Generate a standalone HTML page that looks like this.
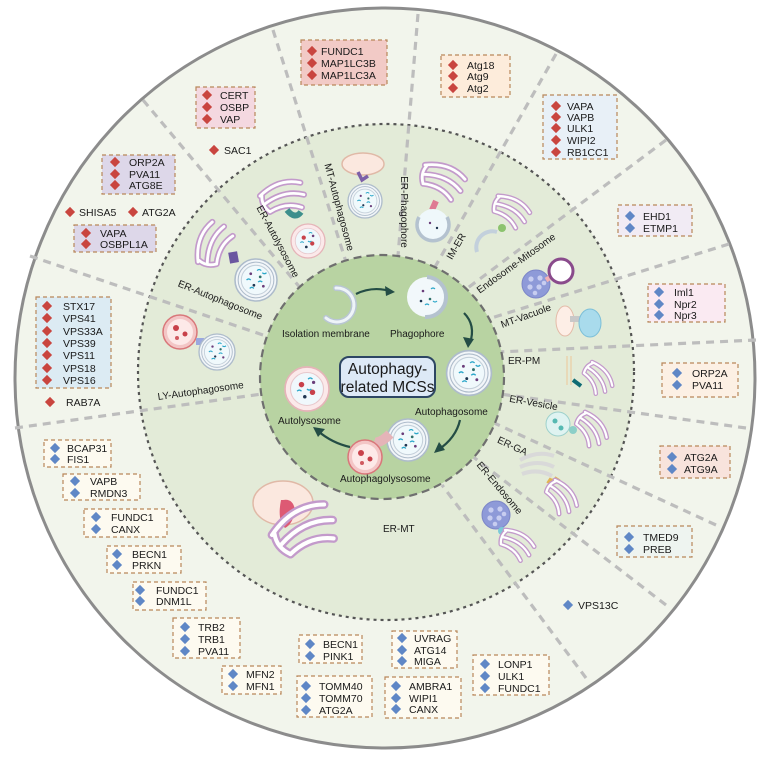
<!DOCTYPE html>
<html><head><meta charset="utf-8"><style>
html,body{margin:0;padding:0;background:#fff;width:770px;height:758px;overflow:hidden}
svg{display:block}
text{font-family:"Liberation Sans",sans-serif;fill:#1a1a1a}
.b{font-size:10.5px}
.l{font-size:10px}
</style></head><body>
<svg width="770" height="758" viewBox="0 0 770 758" xmlns="http://www.w3.org/2000/svg">
<defs>
<g id="er"><path d="M0,0 q22,-16 44,-8 M4,9 q22,-12 42,-4 M8,18 q18,-8 34,0 M2,0 q-2,10 6,18" fill="none" stroke="#c39acb" stroke-width="6.5" stroke-linecap="round"/><path d="M0,0 q22,-16 44,-8 M4,9 q22,-12 42,-4 M8,18 q18,-8 34,0 M2,0 q-2,10 6,18" fill="none" stroke="#fff" stroke-width="3" stroke-linecap="round"/></g>
<g id="ap"><circle r="20" fill="#f2f6f9" stroke="#aebccb" stroke-width="1.5"/><circle r="17" fill="none" stroke="#aebccb" stroke-width="1"/><circle r="14" fill="#f0f9fc" stroke="#c4d0da"/><circle cx="-5" cy="-6" r="1.3" fill="#6a3d7a"/><circle cx="4" cy="-3" r="1.3" fill="#2f6f6a"/><circle cx="-2" cy="5" r="1.3" fill="#1f3550"/><circle cx="7" cy="6" r="1.3" fill="#6a3d7a"/><path d="M-9,0 q2,-2 4,0 M1,-9 q2,-2 4,0 M2,2 q2,-2 4,0 M-6,8 q2,-2 4,0 M6,-7 q2,2 4,0" stroke="#2aa6c9" stroke-width="1.2" fill="none"/></g>
<g id="al"><circle r="20" fill="#fbe9ea" stroke="#e5b4b8" stroke-width="1.5"/><circle r="15" fill="#f0f8fc" stroke="#e8c8cc"/><circle cx="-5" cy="-4" r="2.5" fill="#c8414a"/><circle cx="5" cy="3" r="2.5" fill="#c8414a"/><circle cx="-2" cy="7" r="1.6" fill="#1f3550"/><circle cx="6" cy="-6" r="1.5" fill="#6a3d7a"/><path d="M-9,2 q2,-2 4,0 M1,-9 q2,-2 4,0 M0,0 q2,2 4,0" stroke="#2aa6c9" stroke-width="1.2" fill="none"/></g>
<g id="ly"><circle r="17" fill="#f3c6c6" stroke="#d9777a" stroke-width="1.5"/><circle r="13" fill="#fde9e8"/><circle cx="-4" cy="-4" r="3" fill="#c8414a"/><circle cx="5" cy="2" r="2.5" fill="#c8414a"/><circle cx="-3" cy="6" r="2" fill="#d05a60"/></g>
<g id="en"><circle r="14" fill="#8e9ad8" stroke="#7c86c8"/><circle cx="-5" cy="-5" r="2.6" fill="#c7cdf0"/><circle cx="4" cy="-6" r="2.6" fill="#c7cdf0"/><circle cx="-6" cy="3" r="2.6" fill="#c7cdf0"/><circle cx="3" cy="3" r="2.6" fill="#c7cdf0"/><circle cx="8" cy="-1" r="2.3" fill="#c7cdf0"/><circle cx="-1" cy="9" r="2.3" fill="#c7cdf0"/></g>
<g id="rd"><rect x="-3.6" y="-3.6" width="7.2" height="7.2" fill="#c9453f" transform="rotate(45)"/></g>
<g id="bd"><rect x="-3.6" y="-3.6" width="7.2" height="7.2" fill="#5f87c6" transform="rotate(45)"/></g>
</defs>

<!-- rings -->
<circle cx="385" cy="378" r="370" fill="#f2f5ec" stroke="#8c8c8c" stroke-width="3"/>
<circle cx="386" cy="372" r="248" fill="#e3ebd8" stroke="#555" stroke-width="2.2" stroke-dasharray="3,4"/>

<!-- radial dashed lines -->
<g stroke="#bdbdbd" stroke-width="3.2" stroke-dasharray="8,6" fill="none">
<line x1="273" y1="30" x2="346" y2="262"/>
<line x1="143" y1="100" x2="302" y2="290"/>
<line x1="30" y1="256" x2="266" y2="336"/>
<line x1="15" y1="428" x2="262" y2="394"/>
<line x1="418" y1="14" x2="398" y2="256"/>
<line x1="556" y1="54" x2="435" y2="267"/>
<line x1="666" y1="140" x2="465" y2="290"/>
<line x1="729" y1="244" x2="485" y2="320"/>
<line x1="756" y1="340" x2="498" y2="352"/>
<line x1="746" y1="428" x2="500" y2="394"/>
<line x1="716" y1="525" x2="492" y2="422"/>
<line x1="666" y1="605" x2="472" y2="456"/>
<line x1="586" y1="678" x2="442" y2="485"/>
</g>

<!-- inner green -->
<circle cx="382" cy="377" r="122" fill="#b8d3a2" stroke="#6f6f6f" stroke-width="2.2" stroke-dasharray="8,5"/>

<!-- inner content -->
<path d="M336,288 a17,17 0 1,1 -10,30" fill="none" stroke="#b9c6d3" stroke-width="6" stroke-linecap="round"/>
<path d="M336,288 a17,17 0 1,1 -10,30" fill="none" stroke="#eef4f8" stroke-width="3" stroke-linecap="round"/>
<g transform="translate(427,297)"><circle r="20" fill="#f2f8fb"/><path d="M0,-20 a20,20 0 0,1 -2,40" fill="none" stroke="#b4c2cf" stroke-width="4"/><circle cx="-4" cy="-6" r="1.3" fill="#6a3d7a"/><circle cx="3" cy="2" r="1.3" fill="#2f6f6a"/><circle cx="-6" cy="4" r="1.3" fill="#1f3550"/><path d="M4,-8 q2,-2 4,0 M-2,8 q2,-2 4,0 M6,4 q2,2 4,0" stroke="#2aa6c9" stroke-width="1.2" fill="none"/></g>
<use href="#ap" transform="translate(469,373) scale(1.12)"/>
<use href="#ap" transform="translate(408,440) scale(1.05)"/>
<path d="M390,434 q-10,10 -16,8" stroke="#e5b4b8" stroke-width="10" fill="none"/>
<use href="#ly" transform="translate(365,457)"/>
<use href="#al" transform="translate(307,389) scale(1.1)"/>
<g stroke="#244d45" stroke-width="2.2" fill="none">
<path d="M356,294 q16,-8 34,-3"/><path d="M464,313 q12,12 6,30"/><path d="M460,420 q-4,18 -22,30"/><path d="M350,447 q-18,-4 -32,-16"/>
</g>
<g fill="#244d45">
<polygon points="395,292 385,286 386,296"/><polygon points="468,348 463,337 474,339"/><polygon points="434,453 439,442 445,450"/><polygon points="313,427 325,429 318,437"/>
</g>
<rect x="340" y="357" width="95" height="40" rx="9" fill="#dde9f6" stroke="#2d4663" stroke-width="2"/>
<text x="387.5" y="374" text-anchor="middle" style="font-size:15.5px">Autophagy-</text>
<text x="387.5" y="392" text-anchor="middle" style="font-size:15.5px">related MCSs</text>
<text class="l" x="282" y="337">Isolation membrane</text>
<text class="l" x="390" y="337">Phagophore</text>
<text class="l" x="415" y="415">Autophagosome</text>
<text class="l" x="340" y="482">Autophagolysosome</text>
<text class="l" x="278" y="424">Autolysosome</text>

<!-- middle ring illustrations -->
<use href="#er" transform="translate(198,262) rotate(-60) scale(0.95)"/>
<rect x="229" y="252" width="9" height="11" fill="#6b56a0" transform="rotate(-10 233 257)"/>
<use href="#ap" transform="translate(256,280) scale(1.05)"/>
<use href="#er" transform="translate(260,196) rotate(-8) scale(0.95)"/>
<path d="M287,210 q8,10 14,2" stroke="#3d8f8c" stroke-width="6" fill="none"/>
<use href="#al" transform="translate(308,241) scale(0.85)"/>
<ellipse cx="363" cy="164" rx="21" ry="11" fill="#fbe8df" stroke="#e0b9a7" stroke-width="1.5"/>
<path d="M358,172 l4,8 l6,-4" stroke="#7c5fa8" stroke-width="3.5" fill="none"/>
<use href="#ap" transform="translate(365,201) scale(0.85)"/>
<use href="#er" transform="translate(425,165) rotate(30) scale(0.95)"/>
<path d="M436,201 l-4,9" stroke="#df7a93" stroke-width="6"/>
<g transform="translate(433,225)"><circle r="16" fill="#eff8fb"/><path d="M-14,-8 a16,16 0 1,0 28,0" fill="none" stroke="#b4c2cf" stroke-width="3.5"/><circle cx="-3" cy="-2" r="1.2" fill="#6a3d7a"/><circle cx="4" cy="3" r="1.2" fill="#1f3550"/></g>
<use href="#er" transform="translate(498,196) rotate(38) scale(0.8)"/>
<circle cx="502" cy="228" r="4" fill="#8cc36e"/>
<path d="M497,232 a16,16 0 0,0 -20,20" fill="none" stroke="#c3d0dc" stroke-width="4"/>
<use href="#en" transform="translate(536,284)"/>
<path d="M546,280 l10,-6" stroke="#f1b0b4" stroke-width="5"/>
<circle cx="561" cy="271" r="12" fill="#fff" stroke="#8a4b8c" stroke-width="3"/>
<ellipse cx="565" cy="321" rx="9" ry="15" fill="#fdeee6" stroke="#e3bba8"/>
<rect x="570" y="316" width="10" height="6" fill="#c8c8c8"/>
<ellipse cx="590" cy="323" rx="11" ry="14" fill="#a9dbec" stroke="#7cbfd8"/>
<line x1="567" y1="356" x2="567" y2="385" stroke="#e8d9b8" stroke-width="2"/><line x1="571" y1="356" x2="571" y2="385" stroke="#e8d9b8" stroke-width="2"/>
<path d="M573,380 l8,6" stroke="#0f6b73" stroke-width="4"/>
<use href="#er" transform="translate(592,362) rotate(60) scale(0.7)"/>
<circle cx="558" cy="424" r="12" fill="#dff3f1" stroke="#9ed1cc"/><circle cx="555" cy="421" r="2.5" fill="#56b9b2"/><circle cx="561" cy="428" r="2.5" fill="#56b9b2"/>
<circle cx="573" cy="430" r="4" fill="#8ccfc8"/>
<use href="#er" transform="translate(585,412) rotate(60) scale(0.75)"/>
<g stroke="#d9d9d9" stroke-width="4" fill="none"><path d="M520,460 q18,-10 34,-4"/><path d="M520,467 q18,-8 34,0"/><path d="M522,474 q16,-6 30,2"/></g>
<path d="M548,480 q6,4 10,-2" stroke="#e2b354" stroke-width="6" fill="none"/>
<use href="#er" transform="translate(555,480) rotate(60) scale(0.75)"/>
<use href="#en" transform="translate(496,515)"/>
<circle cx="502" cy="531" r="4" fill="#7ccbd8"/>
<use href="#er" transform="translate(505,530) rotate(40) scale(0.75)"/>
<ellipse cx="283" cy="503" rx="30" ry="22" fill="#fbe8df" stroke="#e0b9a7" stroke-width="1.5"/>
<path d="M283,500 q10,-2 12,10 q-2,14 -10,18 q-8,-8 -4,-28z" fill="#dd5a74"/>
<use href="#er" transform="translate(272,535) rotate(-20) scale(1.35)"/>
<use href="#ly" transform="translate(180,332)"/>
<rect x="196" y="338" width="8" height="7" fill="#9aa8de"/>
<use href="#ap" transform="translate(217,352) scale(0.9)"/>

<!-- middle ring labels -->
<g class="l">
<text class="l" transform="translate(219,303) rotate(22)" text-anchor="middle">ER-Autophagosome</text>
<text class="l" transform="translate(275,243) rotate(62)" text-anchor="middle">ER-Autolysosome</text>
<text class="l" transform="translate(336,208) rotate(75)" text-anchor="middle">MT-Autophagosome</text>
<text class="l" transform="translate(401,212) rotate(90)" text-anchor="middle">ER-Phagophore</text>
<text class="l" transform="translate(459,248) rotate(-60)" text-anchor="middle">IM-ER</text>
<text class="l" transform="translate(518,266) rotate(-36)" text-anchor="middle">Endosome-Mitosome</text>
<text class="l" transform="translate(527,319) rotate(-20)" text-anchor="middle">MT-Vacuole</text>
<text class="l" x="508" y="364">ER-PM</text>
<text class="l" transform="translate(533,406) rotate(10)" text-anchor="middle">ER-Vesicle</text>
<text class="l" transform="translate(511,449) rotate(25)" text-anchor="middle">ER-GA</text>
<text class="l" transform="translate(497,490) rotate(50)" text-anchor="middle">ER-Endosome</text>
<text class="l" x="383" y="532">ER-MT</text>
<text class="l" transform="translate(201,394) rotate(-8)" text-anchor="middle">LY-Autophagosome</text>
</g>

<!-- protein boxes -->
<g stroke="#b8875a" stroke-width="1.2" stroke-dasharray="4,3">
<rect x="301" y="40" width="86" height="45" fill="#f2cac6"/>
<rect x="441" y="55" width="69" height="42" fill="#fdecdb"/>
<rect x="196" y="87" width="59" height="41" fill="#f4d8e0"/>
<rect x="543" y="95" width="74" height="64" fill="#e8f0f7"/>
<rect x="102" y="155" width="73" height="39" fill="#ddd7e9"/>
<rect x="74" y="225" width="82" height="27" fill="#ddd7e9"/>
<rect x="36" y="297" width="75" height="91" fill="#dcebf3"/>
<rect x="618" y="205" width="74" height="31" fill="#f1ebf4"/>
<rect x="648" y="284" width="77" height="38" fill="#faeaf2"/>
<rect x="662" y="363" width="76" height="34" fill="#fcf0e4"/>
<rect x="660" y="446" width="70" height="32" fill="#f8e3dc"/>
<rect x="617" y="526" width="75" height="31" fill="#eef4f0"/>
<g fill="#fdfaf0">
<rect x="44" y="440" width="67" height="27"/>
<rect x="63" y="474" width="77" height="26"/>
<rect x="84" y="509" width="83" height="28"/>
<rect x="107" y="546" width="74" height="27"/>
<rect x="133" y="582" width="73" height="28"/>
<rect x="173" y="618" width="67" height="40"/>
<rect x="222" y="666" width="59" height="28"/>
<rect x="299" y="635" width="63" height="28"/>
<rect x="297" y="676" width="75" height="41"/>
<rect x="392" y="631" width="65" height="37"/>
<rect x="385" y="677" width="76" height="41"/>
<rect x="473" y="655" width="76" height="40"/>
</g>
</g>

<!-- red items -->
<g>
<use href="#rd" x="312" y="51"/><use href="#rd" x="312" y="63"/><use href="#rd" x="312" y="75"/>
<text class="b" x="321" y="55">FUNDC1</text><text class="b" x="321" y="67">MAP1LC3B</text><text class="b" x="321" y="79">MAP1LC3A</text>
<use href="#rd" x="453" y="65"/><use href="#rd" x="453" y="76"/><use href="#rd" x="453" y="88"/>
<text class="b" x="467" y="69">Atg18</text><text class="b" x="467" y="80">Atg9</text><text class="b" x="467" y="92">Atg2</text>
<use href="#rd" x="207" y="95"/><use href="#rd" x="207" y="107"/><use href="#rd" x="207" y="119"/>
<text class="b" x="220" y="99">CERT</text><text class="b" x="220" y="111">OSBP</text><text class="b" x="220" y="123">VAP</text>
<use href="#rd" x="214" y="150"/><text class="b" x="224" y="154">SAC1</text>
<use href="#rd" x="556" y="106"/><use href="#rd" x="556" y="117"/><use href="#rd" x="556" y="128"/><use href="#rd" x="556" y="140"/><use href="#rd" x="556" y="152"/>
<text class="b" x="567" y="110">VAPA</text><text class="b" x="567" y="121">VAPB</text><text class="b" x="567" y="132">ULK1</text><text class="b" x="567" y="144">WIPI2</text><text class="b" x="567" y="156">RB1CC1</text>
<use href="#rd" x="115" y="162"/><use href="#rd" x="115" y="174"/><use href="#rd" x="115" y="185"/>
<text class="b" x="129" y="166">ORP2A</text><text class="b" x="129" y="178">PVA11</text><text class="b" x="129" y="189">ATG8E</text>
<use href="#rd" x="70" y="212"/><text class="b" x="79" y="216">SHISA5</text>
<use href="#rd" x="133" y="212"/><text class="b" x="142" y="216">ATG2A</text>
<use href="#rd" x="86" y="233"/><use href="#rd" x="86" y="244"/>
<text class="b" x="100" y="237">VAPA</text><text class="b" x="100" y="248">OSBPL1A</text>
<use href="#rd" x="47" y="306"/><use href="#rd" x="47" y="318"/><use href="#rd" x="47" y="331"/><use href="#rd" x="47" y="343"/><use href="#rd" x="47" y="355"/><use href="#rd" x="47" y="368"/><use href="#rd" x="47" y="380"/>
<text class="b" x="63" y="310">STX17</text><text class="b" x="63" y="322">VPS41</text><text class="b" x="63" y="335">VPS33A</text><text class="b" x="63" y="347">VPS39</text><text class="b" x="63" y="359">VPS11</text><text class="b" x="63" y="372">VPS18</text><text class="b" x="63" y="384">VPS16</text>
<use href="#rd" x="50" y="402"/><text class="b" x="66" y="406">RAB7A</text>
</g>

<!-- blue items -->
<g>
<use href="#bd" x="630" y="216"/><use href="#bd" x="630" y="228"/>
<text class="b" x="643" y="220">EHD1</text><text class="b" x="643" y="232">ETMP1</text>
<use href="#bd" x="659" y="292"/><use href="#bd" x="659" y="304"/><use href="#bd" x="659" y="315"/>
<text class="b" x="674" y="296">Iml1</text><text class="b" x="674" y="308">Npr2</text><text class="b" x="674" y="319">Npr3</text>
<use href="#bd" x="677" y="373"/><use href="#bd" x="677" y="385"/>
<text class="b" x="692" y="377">ORP2A</text><text class="b" x="692" y="389">PVA11</text>
<use href="#bd" x="672" y="457"/><use href="#bd" x="672" y="469"/>
<text class="b" x="684" y="461">ATG2A</text><text class="b" x="684" y="473">ATG9A</text>
<use href="#bd" x="629" y="537"/><use href="#bd" x="629" y="549"/>
<text class="b" x="643" y="541">TMED9</text><text class="b" x="643" y="553">PREB</text>
<use href="#bd" x="568" y="605"/><text class="b" x="578" y="609">VPS13C</text>
<use href="#bd" x="55" y="448"/><use href="#bd" x="55" y="459"/>
<text class="b" x="67" y="452">BCAP31</text><text class="b" x="67" y="463">FIS1</text>
<use href="#bd" x="75" y="481"/><use href="#bd" x="75" y="493"/>
<text class="b" x="90" y="485">VAPB</text><text class="b" x="90" y="497">RMDN3</text>
<use href="#bd" x="96" y="517"/><use href="#bd" x="96" y="529"/>
<text class="b" x="111" y="521">FUNDC1</text><text class="b" x="111" y="533">CANX</text>
<use href="#bd" x="117" y="554"/><use href="#bd" x="117" y="565"/>
<text class="b" x="132" y="558">BECN1</text><text class="b" x="132" y="569">PRKN</text>
<use href="#bd" x="140" y="590"/><use href="#bd" x="140" y="601"/>
<text class="b" x="156" y="594">FUNDC1</text><text class="b" x="156" y="605">DNM1L</text>
<use href="#bd" x="185" y="627"/><use href="#bd" x="185" y="639"/><use href="#bd" x="185" y="651"/>
<text class="b" x="198" y="631">TRB2</text><text class="b" x="198" y="643">TRB1</text><text class="b" x="198" y="655">PVA11</text>
<use href="#bd" x="233" y="674"/><use href="#bd" x="233" y="686"/>
<text class="b" x="246" y="678">MFN2</text><text class="b" x="246" y="690">MFN1</text>
<use href="#bd" x="310" y="644"/><use href="#bd" x="310" y="656"/>
<text class="b" x="323" y="648">BECN1</text><text class="b" x="323" y="660">PINK1</text>
<use href="#bd" x="306" y="686"/><use href="#bd" x="306" y="698"/><use href="#bd" x="306" y="710"/>
<text class="b" x="319" y="690">TOMM40</text><text class="b" x="319" y="702">TOMM70</text><text class="b" x="319" y="714">ATG2A</text>
<use href="#bd" x="402" y="638"/><use href="#bd" x="402" y="650"/><use href="#bd" x="402" y="661"/>
<text class="b" x="414" y="642">UVRAG</text><text class="b" x="414" y="654">ATG14</text><text class="b" x="414" y="665">MIGA</text>
<use href="#bd" x="396" y="686"/><use href="#bd" x="396" y="698"/><use href="#bd" x="396" y="709"/>
<text class="b" x="409" y="690">AMBRA1</text><text class="b" x="409" y="702">WIPI1</text><text class="b" x="409" y="713">CANX</text>
<use href="#bd" x="485" y="664"/><use href="#bd" x="485" y="676"/><use href="#bd" x="485" y="688"/>
<text class="b" x="498" y="668">LONP1</text><text class="b" x="498" y="680">ULK1</text><text class="b" x="498" y="692">FUNDC1</text>
</g>
</svg>
</body></html>
